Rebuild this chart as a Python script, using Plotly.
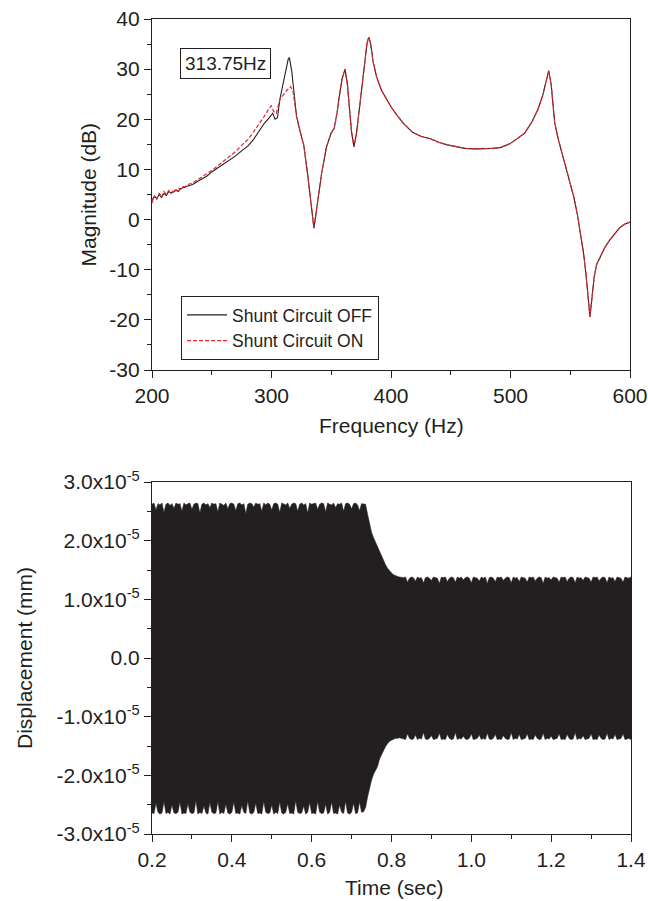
import plotly.graph_objects as go

# ---------------- Top panel: frequency response ----------------
freq_off = [200, 202, 204, 206, 208, 210, 212, 214, 216, 218, 220, 222, 224, 226, 228, 230,
            234, 238, 242, 246, 250, 255, 260, 265, 270, 275, 280, 285, 290, 294, 298, 300,
            301, 303, 305, 307, 310, 312, 314, 315, 317, 319, 321, 324, 327, 330, 333, 335.5,
            338, 342, 346, 350, 352.5, 355, 357, 359, 361.5, 363.5, 365.5, 367, 369, 371, 373,
            375.5, 378, 380, 381.5, 383, 385, 388, 392, 396, 400, 405, 410, 418, 425, 433, 440,
            447, 455, 462, 470, 478, 485, 492, 500, 506, 512, 518, 523, 527, 530, 532, 534, 537,
            540, 543, 546, 550, 553, 556, 559, 561, 563, 564.5, 566.5, 568, 570, 572, 575, 579,
            583, 587, 591, 595, 600]
mag_off = [3.9, 4.6, 4.2, 5.0, 4.4, 5.2, 4.8, 5.6, 5.3, 5.5, 5.9, 5.6, 6.2, 6.3, 6.5, 6.7,
           7.0, 7.6, 8.1, 8.7, 9.5, 10.3, 11.2, 12.0, 12.7, 13.7, 14.6, 16.0, 17.9, 19.2, 20.3, 21.0,
           21.2, 20.0, 20.3, 24.0, 27.5, 30.0, 32.0, 32.3, 29.5, 25.0, 20.5, 17.5, 14.8, 9.5, 4.0, -1.7,
           2.5, 9.3, 14.5, 17.3, 18.2, 21.5, 25.0, 28.0, 30.0, 27.0, 21.5, 17.5, 14.5, 17.0, 21.0,
           26.5, 32.0, 35.3, 36.4, 35.0, 31.5, 28.4, 25.8, 24.0, 22.5, 20.8, 19.3, 17.4, 16.6, 16.1, 15.4,
           14.9, 14.5, 14.2, 14.1, 14.1, 14.2, 14.4, 15.2, 16.2, 17.3, 19.5, 22.0, 24.8, 27.8, 29.7, 27.0, 19.3,
           16.0, 13.3, 10.5, 7.3, 4.5, 1.0, -3.5, -6.5, -10.5, -14.0, -19.4, -16.0, -11.5, -9.0, -7.4, -5.5,
           -4.1, -2.8, -1.7, -1.0, -0.5]

# Shunt ON differs from OFF below ~322 Hz; above that the two curves coincide
freq_on_low = [200, 202, 204, 206, 208, 210, 212, 214, 216, 218, 220, 222, 224, 226, 228, 230,
               234, 238, 242, 246, 250, 255, 260, 265, 270, 275, 280, 285, 290, 294, 298, 300,
               302, 304, 307, 310, 313, 316, 318, 321]
mag_on_low = [3.3, 4.8, 4.0, 5.3, 4.5, 5.6, 5.0, 5.8, 5.2, 6.0, 5.7, 6.3, 6.0, 6.6, 6.6, 7.0,
              7.3, 7.9, 8.5, 9.1, 9.8, 10.7, 11.7, 12.7, 13.6, 14.8, 15.9, 17.5, 19.2, 20.6, 22.2, 22.7,
              21.5, 21.2, 24.0, 25.0, 25.8, 26.5, 25.5, 20.5]

freq_on = freq_on_low + [f for f in freq_off if f > 322]
mag_on = mag_on_low + [m for f, m in zip(freq_off, mag_off) if f > 322]

# ---------------- Bottom panel: displacement envelope (units of 1e-5 mm) ----------------
time_s = [round(0.200 + 0.005 * i, 3) for i in range(241)]  # sampling grid 0.200 .. 1.400 s

disp_upper = [
    # 0.200 .. 0.730
    2.62, 2.64, 2.52, 2.63, 2.61, 2.64, 2.48, 2.62, 2.64, 2.60,
    2.63, 2.55, 2.64, 2.62, 2.63, 2.50, 2.64, 2.61, 2.63, 2.64,
    2.53, 2.62, 2.64, 2.63, 2.47, 2.62, 2.64, 2.61, 2.63, 2.56,
    2.64, 2.62, 2.63, 2.49, 2.64, 2.62, 2.60, 2.64, 2.54, 2.63,
    2.64, 2.62, 2.51, 2.63, 2.64, 2.61, 2.63, 2.46, 2.62, 2.64,
    2.63, 2.57, 2.64, 2.62, 2.63, 2.50, 2.64, 2.61, 2.64, 2.62,
    2.52, 2.63, 2.64, 2.62, 2.48, 2.64, 2.63, 2.61, 2.64, 2.55,
    2.62, 2.64, 2.63, 2.50, 2.62, 2.64, 2.61, 2.63, 2.47, 2.64,
    2.62, 2.63, 2.64, 2.53, 2.62, 2.64, 2.63, 2.49, 2.64, 2.62,
    2.61, 2.64, 2.56, 2.63, 2.62, 2.64, 2.50, 2.63, 2.64, 2.62,
    2.54, 2.63, 2.64, 2.61, 2.51, 2.63, 2.62,
    # 0.735 .. 0.825 (transition)
    2.62, 2.45, 2.27, 2.14, 2.05, 1.97, 1.89, 1.82, 1.73, 1.65,
    1.59, 1.53, 1.48, 1.45, 1.42, 1.40, 1.39, 1.38, 1.37,
    # 0.830 .. 1.400
    1.37, 1.38, 1.29, 1.36, 1.38, 1.37, 1.31, 1.38, 1.36, 1.37,
    1.28, 1.37, 1.38, 1.36, 1.32, 1.38, 1.37, 1.36, 1.27, 1.38,
    1.37, 1.38, 1.30, 1.36, 1.38, 1.37, 1.29, 1.38, 1.36, 1.38,
    1.33, 1.37, 1.38, 1.36, 1.28, 1.38, 1.37, 1.36, 1.31, 1.38,
    1.36, 1.38, 1.27, 1.37, 1.38, 1.36, 1.30, 1.38, 1.37, 1.38,
    1.32, 1.36, 1.38, 1.37, 1.28, 1.38, 1.36, 1.37, 1.30, 1.38,
    1.37, 1.36, 1.29, 1.38, 1.37, 1.38, 1.31, 1.36, 1.38, 1.37,
    1.27, 1.38, 1.36, 1.37, 1.33, 1.38, 1.37, 1.36, 1.29, 1.38,
    1.37, 1.38, 1.30, 1.36, 1.38, 1.37, 1.28, 1.38, 1.36, 1.37,
    1.32, 1.38, 1.37, 1.36, 1.29, 1.38, 1.37, 1.38, 1.31, 1.36,
    1.38, 1.37, 1.28, 1.38, 1.36, 1.37, 1.30, 1.38, 1.37, 1.36,
    1.29, 1.38, 1.37, 1.36, 1.38,
]
disp_lower = [
    # 0.200 .. 0.730
    -2.64, -2.65, -2.47, -2.63, -2.66, -2.64, -2.44, -2.65, -2.63, -2.66,
    -2.50, -2.64, -2.65, -2.63, -2.45, -2.66, -2.64, -2.65, -2.48, -2.63,
    -2.65, -2.64, -2.43, -2.66, -2.63, -2.65, -2.52, -2.64, -2.66, -2.46,
    -2.63, -2.65, -2.64, -2.44, -2.66, -2.63, -2.65, -2.49, -2.64, -2.66,
    -2.63, -2.45, -2.65, -2.64, -2.66, -2.51, -2.63, -2.65, -2.43, -2.64,
    -2.66, -2.63, -2.47, -2.65, -2.64, -2.66, -2.44, -2.63, -2.65, -2.64,
    -2.50, -2.66, -2.63, -2.65, -2.45, -2.64, -2.66, -2.63, -2.48, -2.65,
    -2.64, -2.66, -2.43, -2.63, -2.65, -2.64, -2.52, -2.66, -2.63, -2.46,
    -2.65, -2.64, -2.66, -2.44, -2.63, -2.65, -2.64, -2.49, -2.66, -2.63,
    -2.45, -2.65, -2.64, -2.66, -2.50, -2.63, -2.65, -2.44, -2.64, -2.66,
    -2.63, -2.47, -2.65, -2.64, -2.45, -2.63, -2.62,
    # 0.735 .. 0.825 (transition)
    -2.55, -2.37, -2.22, -2.08, -1.98, -1.92, -1.85, -1.72, -1.64, -1.57,
    -1.51, -1.46, -1.42, -1.40, -1.38, -1.37, -1.37, -1.36, -1.37,
    # 0.830 .. 1.400
    -1.38, -1.39, -1.29, -1.37, -1.39, -1.38, -1.31, -1.39, -1.37, -1.38,
    -1.27, -1.38, -1.39, -1.37, -1.32, -1.39, -1.38, -1.37, -1.28, -1.39,
    -1.38, -1.39, -1.30, -1.37, -1.39, -1.38, -1.27, -1.39, -1.37, -1.38,
    -1.33, -1.38, -1.39, -1.37, -1.29, -1.39, -1.38, -1.37, -1.31, -1.39,
    -1.37, -1.39, -1.28, -1.38, -1.39, -1.37, -1.30, -1.39, -1.38, -1.39,
    -1.32, -1.37, -1.39, -1.38, -1.27, -1.39, -1.37, -1.38, -1.30, -1.39,
    -1.38, -1.37, -1.29, -1.39, -1.38, -1.39, -1.31, -1.37, -1.39, -1.38,
    -1.28, -1.39, -1.37, -1.38, -1.33, -1.39, -1.38, -1.37, -1.29, -1.39,
    -1.38, -1.39, -1.30, -1.37, -1.39, -1.38, -1.27, -1.39, -1.37, -1.38,
    -1.32, -1.39, -1.38, -1.37, -1.29, -1.39, -1.38, -1.39, -1.31, -1.37,
    -1.39, -1.38, -1.28, -1.39, -1.37, -1.38, -1.30, -1.39, -1.38, -1.37,
    -1.29, -1.39, -1.38, -1.37, -1.39,
]
assert len(disp_upper) == len(time_s) == len(disp_lower), (len(disp_upper), len(disp_lower))

top_yticks = [-30, -20, -10, 0, 10, 20, 30, 40]
top_ylabels = ["-30", "-20", "-10", "0", "10", "20", "30", "40"]
top_xticks = [200, 300, 400, 500, 600]
top_xlabels = ["200", "300", "400", "500", "600"]
bot_xticks = [0.2, 0.4, 0.6, 0.8, 1.0, 1.2, 1.4]
bot_xlabels = ["0.2", "0.4", "0.6", "0.8", "1.0", "1.2", "1.4"]
bot_yticks = [-3, -2, -1, 0, 1, 2, 3]
bot_ylabels = ["-3.0x10<sup>-5</sup>", "-2.0x10<sup>-5</sup>", "-1.0x10<sup>-5</sup>", "0.0",
               "1.0x10<sup>-5</sup>", "2.0x10<sup>-5</sup>", "3.0x10<sup>-5</sup>"]

INK = "#231f20"
RED = "#e8262d"
FONT = "Liberation Sans, Arial, sans-serif"
W, H = 648, 901
TICK_SIZE = 21
TITLE_SIZE = 21

fig = go.Figure()
fig.add_trace(go.Scatter(x=freq_off, y=mag_off, mode="lines", name="Shunt Circuit OFF",
                         line=dict(color=INK, width=1.1), xaxis="x", yaxis="y"))
fig.add_trace(go.Scatter(x=freq_on, y=mag_on, mode="lines", name="Shunt Circuit ON",
                         line=dict(color=RED, width=1.2, dash="4px,2px"), xaxis="x", yaxis="y"))
fig.add_trace(go.Scatter(x=time_s, y=disp_lower, mode="lines", showlegend=False,
                         line=dict(color=INK, width=0.6), xaxis="x2", yaxis="y2"))
fig.add_trace(go.Scatter(x=time_s, y=disp_upper, mode="lines", showlegend=False,
                         fill="tonexty", fillcolor=INK,
                         line=dict(color=INK, width=0.6), xaxis="x2", yaxis="y2"))


def px_x(p):
    return p / W


def px_y(p):
    return 1 - p / H


axis_common = dict(showline=True, linecolor=INK, linewidth=1.2, mirror=True, ticks="outside",
                   ticklen=7, tickwidth=1.2, tickcolor=INK, showgrid=False, zeroline=False,
                   automargin=False, tickmode="array", ticklabeloverflow="allow",
                   tickfont=dict(family=FONT, size=TICK_SIZE, color=INK))

fig.update_layout(
    width=W, height=H, margin=dict(l=0, r=0, t=0, b=0, autoexpand=False),
    paper_bgcolor="white", plot_bgcolor="white",
    font=dict(family=FONT, color=INK),
    xaxis=dict(domain=[px_x(152), px_x(630)], range=[200, 600], anchor="y",
               tickvals=top_xticks, ticktext=top_xlabels,
               minor=dict(ticks="outside", tickvals=[250, 350, 450, 550], ticklen=4, tickcolor=INK),
               **axis_common),
    yaxis=dict(domain=[px_y(370), px_y(19)], range=[-30, 40], anchor="x",
               tickvals=top_yticks, ticktext=top_ylabels,
               minor=dict(ticks="outside", tickvals=[-25, -15, -5, 5, 15, 25, 35], ticklen=4,
                          tickcolor=INK),
               **axis_common),
    xaxis2=dict(domain=[px_x(152), px_x(631)], range=[0.2, 1.4], anchor="y2",
                tickvals=bot_xticks, ticktext=bot_xlabels,
                minor=dict(ticks="outside", tickvals=[0.3, 0.5, 0.7, 0.9, 1.1, 1.3], ticklen=4,
                           tickcolor=INK),
                **axis_common),
    yaxis2=dict(domain=[px_y(834), px_y(482)], range=[-3, 3], anchor="x2",
                tickvals=bot_yticks, ticktext=bot_ylabels,
                minor=dict(ticks="outside", tickvals=[-2.5, -1.5, -0.5, 0.5, 1.5, 2.5], ticklen=4,
                           tickcolor=INK),
                **axis_common),
    legend=dict(x=px_x(181), y=px_y(296), xanchor="left", yanchor="top",
                bgcolor="white", bordercolor=INK, borderwidth=1, traceorder="normal",
                itemwidth=40,
                font=dict(family=FONT, size=17.5, color=INK), tracegroupgap=0),
    showlegend=True,
)

annots = [
    dict(text="313.75Hz", x=px_x(225.5), y=px_y(63), xref="paper", yref="paper",
         xanchor="center", yanchor="middle",
         showarrow=False, font=dict(family=FONT, size=19, color=INK),
         bordercolor=INK, borderwidth=1, borderpad=4, bgcolor="white"),
    dict(text="Magnitude (dB)", x=px_x(88), y=px_y(194.5), xref="paper", yref="paper",
         xanchor="center", yanchor="middle",
         showarrow=False, textangle=-90, font=dict(family=FONT, size=TITLE_SIZE, color=INK)),
    dict(text="Frequency (Hz)", x=px_x(391), y=px_y(425), xref="paper", yref="paper",
         xanchor="center", yanchor="middle",
         showarrow=False, font=dict(family=FONT, size=TITLE_SIZE, color=INK)),
    dict(text="Displacement (mm)", x=px_x(24), y=px_y(658), xref="paper", yref="paper",
         xanchor="center", yanchor="middle",
         showarrow=False, textangle=-90, font=dict(family=FONT, size=TITLE_SIZE, color=INK)),
    dict(text="Time (sec)", x=px_x(394), y=px_y(887), xref="paper", yref="paper",
         xanchor="center", yanchor="middle",
         showarrow=False, font=dict(family=FONT, size=TITLE_SIZE, color=INK)),
]
fig.update_layout(annotations=annots)

# remove the browser's default 8px body margin so the figure fills the window exactly
fig.write_html("out.html", config={"displayModeBar": False},
               post_script="document.body.style.margin='0px';")
